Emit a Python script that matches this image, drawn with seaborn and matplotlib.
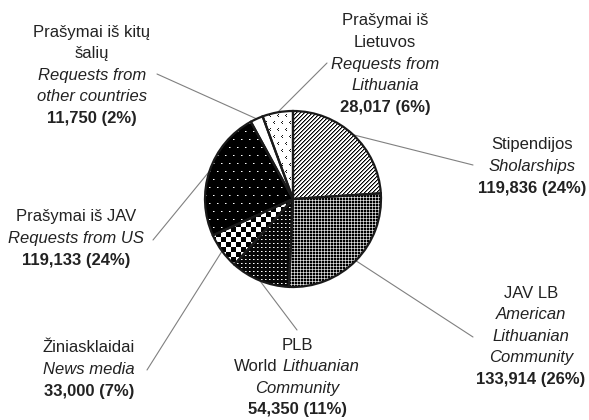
import numpy as np
import matplotlib
matplotlib.use("Agg")
import matplotlib.pyplot as plt
import seaborn as sns

# slices, clockwise from 12 o'clock
values = [119836, 133914, 54350, 33000, 119133, 11750, 28017]
pct = ["24%", "26%", "11%", "7%", "24%", "2%", "6%"]
lt_lines = [["Stipendijos"], ["JAV LB"], ["PLB"], ["Žiniasklaidai"],
            ["Prašymai iš JAV"], ["Prašymai iš kitų", "šalių"],
            ["Prašymai iš", "Lietuvos"]]
en_lines = [["Sholarships"], ["American", "Lithuanian", "Community"],
            ["World|Lithuanian", "Community"], ["News media"],
            ["Requests from US"], ["Requests from", "other countries"],
            ["Requests from", "Lithuania"]]

# layout (pixel coords, y from top)
label_xy = [(532, 145), (531, 293), (297, 345), (89, 348),
            (76, 217), (92, 32), (385, 21)]
line_start = [(473, 165), (473, 337), (297, 330), (147, 370),
              (153, 240), (157, 74), (327, 63)]
W, H = 589, 420
cx, cy, r = 293, 199, 88
step = 21.6

sns.set_theme(style="white")
plt.rcParams["font.family"] = ["Liberation Sans", "DejaVu Sans"]

fig = plt.figure(figsize=(W / 100, H / 100), dpi=100)
ax = fig.add_axes([0, 0, 1, 1])

wedges, _ = ax.pie(values, center=(cx, H - cy), radius=r, startangle=90,
                   counterclock=False,
                   wedgeprops=dict(facecolor="none", edgecolor="#1a1a1a",
                                   linewidth=1.6, zorder=3))

# fill patterns as small bitmaps clipped to each wedge
x0, y0 = cx - r - 4, cy - r - 4
n = 2 * r + 8
i, j = np.mgrid[0:n, 0:n]
sh8 = 4 * ((i // 8) % 2)
li, lj = i % 7, (j + 4 * ((i // 7) % 2)) % 8
pats = [
    np.where((i + j) % 4 == 0, 0.0, np.where((i + j) % 4 == 1, 0.5, 1.0)),
    np.where((i % 3 != 0) & (j % 3 != 0), 0.0,
             np.where((i % 3 == 0) & (j % 3 == 0), 0.9, 0.6)),
    np.where((i % 4 == 0) & (j % 4 == 0), 1.0,
             np.where((i % 4 == 0) & (j % 4 == 1), 0.55, 0.03)),
    (((i // 5) + (j // 5)) % 2).astype(float),
    np.where((i % 8 == 0) & ((j + sh8) % 8 == 0), 1.0,
             np.where((i % 8 == 0) & ((j + sh8) % 8 == 1), 0.5, 0.0)),
    np.ones((n, n)),
    np.where(((li == 0) & (lj == 1)) | ((li == 1) & (lj == 0)) |
             ((li == 2) & (lj == 1)), 0.1, 1.0),
]
for w, p in zip(wedges, pats):
    im = ax.imshow(p, cmap="gray", vmin=0, vmax=1, interpolation="none",
                   extent=(x0, x0 + n, H - y0 - n, H - y0), zorder=1)
    im.set_clip_path(w)

ax.set_xlim(0, W)
ax.set_ylim(0, H)
ax.set_aspect("equal")
ax.axis("off")

tc = "#222222"
fs = 12
fig.canvas.draw()
rend = fig.canvas.get_renderer()
for k, w in enumerate(wedges):
    lx, ly = label_xy[k]
    rows = [(t, "normal") for t in lt_lines[k]] + \
           [(t, "italic") for t in en_lines[k]] + \
           [(f"{values[k]:,} ({pct[k]})", "bold")]
    for m, (t, st) in enumerate(rows):
        yy = H - (ly + m * step)
        if "|" in t:
            a, b = t.split("|")
            ta = ax.text(0, yy, a, ha="left", va="center", fontsize=fs, color=tc)
            tb = ax.text(0, yy, b, ha="left", va="center", fontsize=fs,
                         color=tc, style="italic")
            wa = ta.get_window_extent(rend).width
            wb = tb.get_window_extent(rend).width
            gap = 5
            left = lx - (wa + gap + wb) / 2
            ta.set_x(left)
            tb.set_x(left + wa + gap)
        else:
            ax.text(lx, yy, t, ha="center", va="center", fontsize=fs, color=tc,
                    style="italic" if st == "italic" else "normal",
                    fontweight="bold" if st == "bold" else "normal")
    # leader line from label to the middle of the wedge arc
    mid = np.deg2rad((w.theta1 + w.theta2) / 2)
    ex, ey = cx + r * np.cos(mid), H - cy + r * np.sin(mid)
    sx, sy = line_start[k]
    ax.plot([sx, ex], [H - sy, ey], color="#808080", lw=0.8, zorder=2)

fig.savefig("out.png", dpi=100)
